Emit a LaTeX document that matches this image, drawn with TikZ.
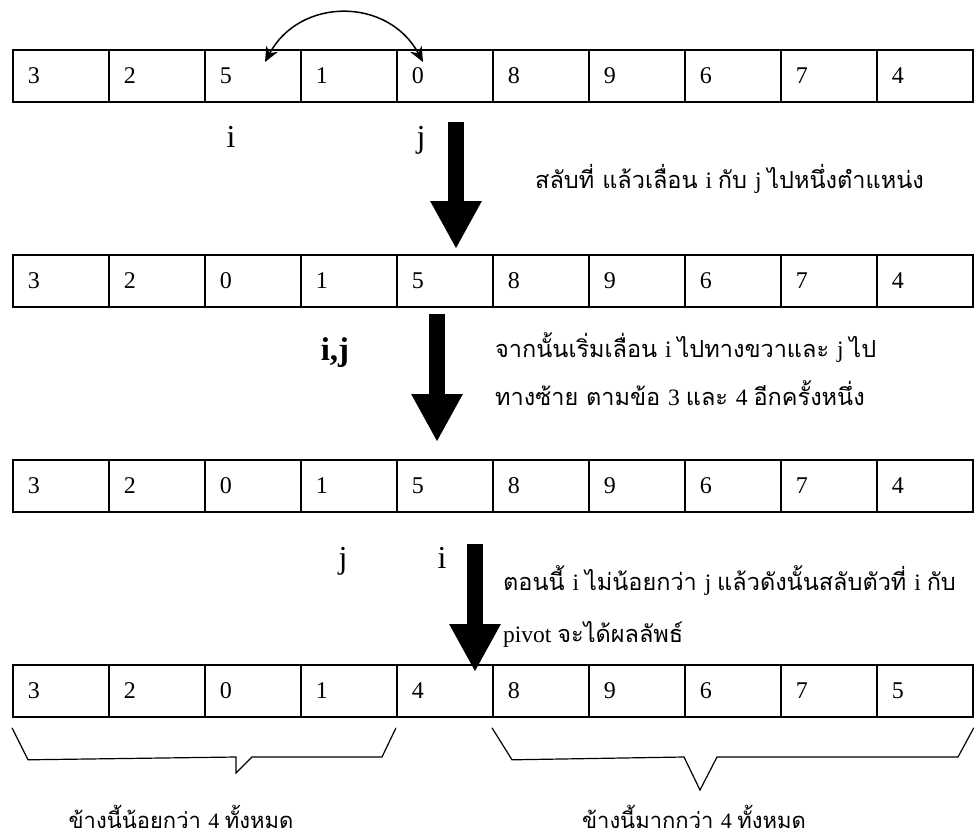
\documentclass[tikz,border=0pt]{standalone}
\usepackage{fontspec}
\setmainfont{Liberation Serif}
\newfontfamily\thaifont[Script=Thai]{Loma}
\usepackage{tikz}
\usetikzlibrary{
    arrows.meta,
    positioning,
    calc
}
\tikzstyle{cell} = [
    rectangle,
    draw,
    line width=1.8pt,
    anchor=north west,
    minimum width=96pt,
    minimum height=52pt,
    text width=66pt,
    inner xsep=15pt,
    align=left,
    font=\fontsize{24}{28}\selectfont
]
\tikzstyle{pointer} = [
    anchor=base,
    inner sep=0pt,
    font=\fontsize{32}{36}\selectfont
]
\tikzstyle{note} = [
    anchor=base west,
    inner sep=0pt,
    font=\fontsize{23.5}{27}\selectfont
]
\tikzstyle{bigarrow} = [
    line width=16pt,
    -{Triangle[length=48pt,width=48pt]}
]
\tikzstyle{swap} = [
    line width=1.5pt,
    {Stealth[length=15pt,width=13pt]}-{Stealth[length=15pt,width=13pt]}
]
\tikzstyle{brace} = [
    line width=1.2pt,
    line join=miter
]

\begin{document}
\begin{tikzpicture}[x=1pt, y=-1pt]
        \useasboundingbox (0,0) rectangle (974,839);

        % The four states of the array
        \foreach \vals [count=\r] in {{3,2,5,1,0,8,9,6,7,4},{3,2,0,1,5,8,9,6,7,4},{3,2,0,1,5,8,9,6,7,4},{3,2,0,1,4,8,9,6,7,5}} {
            \foreach \v [count=\k] in \vals {
                \node[cell] (r\r-\k) at ({12+96*(\k-1)},{49+205*(\r-1)}) {\v};
            }
        }

        % Swap of 5 and 0
        \coordinate (swapL) at ($(r1-3.north west)+(61,13)$);
        \coordinate (swapR) at ($(r1-5.north west)+(27,13)$);
        \draw[swap] (swapL) .. controls +(35,-65) and +(-35,-65) .. (swapR);

        % Pointers i and j
        \node[pointer] (i1) at (231,147) {i};
        \node[pointer] (j1) at (421,147) {j};
        \node[pointer, font=\fontsize{33}{36}\selectfont\bfseries] (ij2) at (335,360) {i,j};
        \node[pointer] (j3) at (343,568) {j};
        \node[pointer] (i3) at (442,568) {i};

        % Step arrows
        \coordinate (a1) at (456,122);
        \coordinate (b1) at (456,249);
        \coordinate (a2) at (437,314);
        \coordinate (b2) at (437,442);
        \coordinate (a3) at (475,544);
        \coordinate (b3) at (475,672);
        \draw[bigarrow] (a1) -- (b1);
        \draw[bigarrow] (a2) -- (b2);
        \draw[bigarrow] (a3) -- (b3);

        % Notes
        \node[note] (note1) at (535,188) {\thaifont สลับที่ แล้วเลื่อน \rmfamily i \thaifont กับ \rmfamily j \thaifont ไปหนึ่งตำแหน่ง};
        \node[note] (note2a) at (495,357) {\thaifont จากนั้นเริ่มเลื่อน \rmfamily i \thaifont ไปทางขวาและ \rmfamily j \thaifont ไป};
        \node[note] (note2b) at (495,405) {\thaifont ทางซ้าย ตามข้อ \rmfamily 3 \thaifont และ \rmfamily 4 \thaifont อีกครั้งหนึ่ง};
        \node[note] (note3a) at (503,590) {\thaifont ตอนนี้ \rmfamily i \thaifont ไม่น้อยกว่า \rmfamily j \thaifont แล้วดังนั้นสลับตัวที่ \rmfamily i \thaifont กับ};
        \node[note] (note3b) at (503,642) {\rmfamily pivot \thaifont จะได้ผลลัพธ์};

        % Braces under the two parts
        \draw[brace] (r4-1.south west) ++(0,10) -- ++(16,32) -- (236,757) -- (236,773) -- (252,757) -- (382,757) -- ($(r4-5.south west)+(0,10)$);
        \draw[brace] (r4-6.south west) ++(0,10) -- ++(20,32) -- (684,757) -- (700,790) -- (717,757) -- (958,757) -- ($(r4-10.south east)+(0,10)$);
        \node[note, anchor=base, font=\fontsize{22}{26}\selectfont] (less) at (181,828) {\thaifont ข้างนี้น้อยกว่า \rmfamily 4 \thaifont ทั้งหมด};
        \node[note, anchor=base, font=\fontsize{22}{26}\selectfont] (more) at (694,828) {\thaifont ข้างนี้มากกว่า \rmfamily 4 \thaifont ทั้งหมด};
    \end{tikzpicture}
\end{document}
